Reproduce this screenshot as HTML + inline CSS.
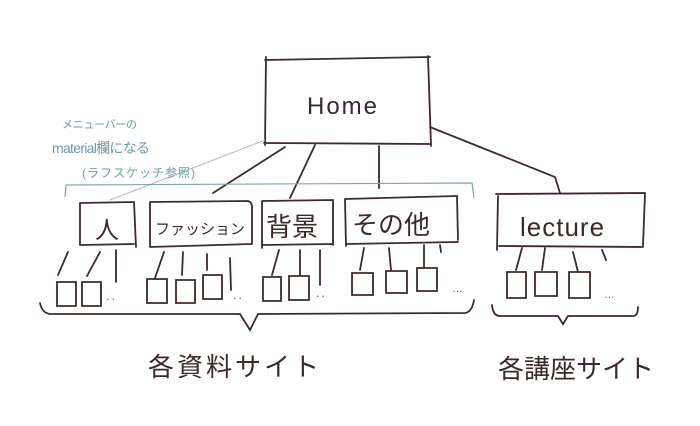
<!DOCTYPE html>
<html><head><meta charset="utf-8"><style>
html,body{margin:0;padding:0;background:#fff;width:700px;height:426px;overflow:hidden}
svg{display:block}
text{font-family:"Liberation Sans","Noto Sans CJK JP",sans-serif;fill:#3a2a28}
text.a{fill:#6f9aa6}
text.d{fill:#6a5a58}
</style></head><body>
<svg width="700" height="426" viewBox="0 0 700 426" xmlns="http://www.w3.org/2000/svg">
<g fill="none" stroke="#3e2a28" stroke-width="1.8" stroke-linecap="round">
<path d="M265 60 L430 57 M266 57 L265 145 M264 143 L430 144 M428 56 L431 146"/>
<path d="M285 147 L213 193 M315 145 L290 198 M379 146 L379 188 M430 127 L555 177 L560 193"/>
<path d="M80 203 L80 245 M80 203 L134 202 M134 202 L136 247 M80 245 L134 244"/>
<path d="M150 202 L150 247 M150 202 L248 201 Q252 202 252 207 L252 243 M150 247 L252 244"/>
<path d="M262 201 L262 248 M262 201 L333 200 L333 245 M262 245 L333 244"/>
<path d="M345 199 L346 246 M345 199 L457 196 L458 240 M346 244 L458 242"/>
<path d="M496 194 L645 193 M498 196 L497 250 M645 193 L643 246 M499 246 L643 247"/>
<path d="M57 282 h19 v24 h-19 z M82 282 h19 v24 h-19 z"/>
<path d="M68 252 L58 275 M100 252 L87 276 M116 250 L116 282"/>
<path d="M147 279 h20 v24 h-20 z M176 280 h19 v23 h-19 z M203 275 h19 v24 h-19 z"/>
<path d="M164 252 L155 278 M183 252 L182 275 M207 254 L207 270 M230 258 L231 290"/>
<path d="M263 277 h18 v24 h-18 z M289 276 h20 v24 h-20 z"/>
<path d="M279 250 L272 275 M300 250 L300 275 M320 250 L320 285"/>
<path d="M352 273 h21 v22 h-21 z M386 271 h21 v22 h-21 z M417 268 h20 v23 h-20 z"/>
<path d="M364 248 L360 270 M389 248 L391 270 M424 245 L424 268 M440 245 L441 252"/>
<path d="M507 272 h19 v26 h-19 z M535 272 h22 v24 h-22 z M569 272 h21 v26 h-21 z"/>
<path d="M522 248 L516 270 M545 248 L542 270 M573 252 L578 272 M602 250 L606 260"/>
<path d="M40 303 Q42 313 50 314 L240 314 L250 330 L258 314 L465 313 Q472 312 474 300"/>
<path d="M492 305 Q493 316 500 316 L558 316 L563 324 L568 316 L634 316 Q638 315 638 307"/>
</g>
<g font-size="11"><text class="d" x="105" y="303">‥</text><text class="d" x="232" y="302">‥</text><text class="d" x="315" y="300">‥</text><text class="d" x="452" y="292">…</text><text class="d" x="604" y="298">…</text></g>
<path d="M265 140 L110 200" stroke="#bcb2b0" stroke-width="1" fill="none"/>
<path d="M65 197 L66 185 L472 183 L474 198" stroke="#7fa6b0" stroke-width="1.2" fill="none"/>
<text class="a" x="62" y="128" font-size="11" textLength="75">メニューバーの</text>
<text class="a" x="52" y="153" font-size="14" textLength="98">material欄になる</text>
<text class="a" x="82" y="177" font-size="12" textLength="113">(ラフスケッチ参照)</text>
<text x="307" y="114" font-size="24" letter-spacing="2">Home</text>
<text x="95" y="238" font-size="24">人</text>
<text x="155" y="234" font-size="15">ファッション</text>
<text x="266" y="236" font-size="26">背景</text>
<text x="352" y="234" font-size="26">その他</text>
<text x="520" y="236" font-size="26" letter-spacing="1">lecture</text>
<text x="148" y="376" font-size="26" letter-spacing="3">各資料サイト</text>
<text x="498" y="378" font-size="26">各講座サイト</text>
</svg>
</body></html>
